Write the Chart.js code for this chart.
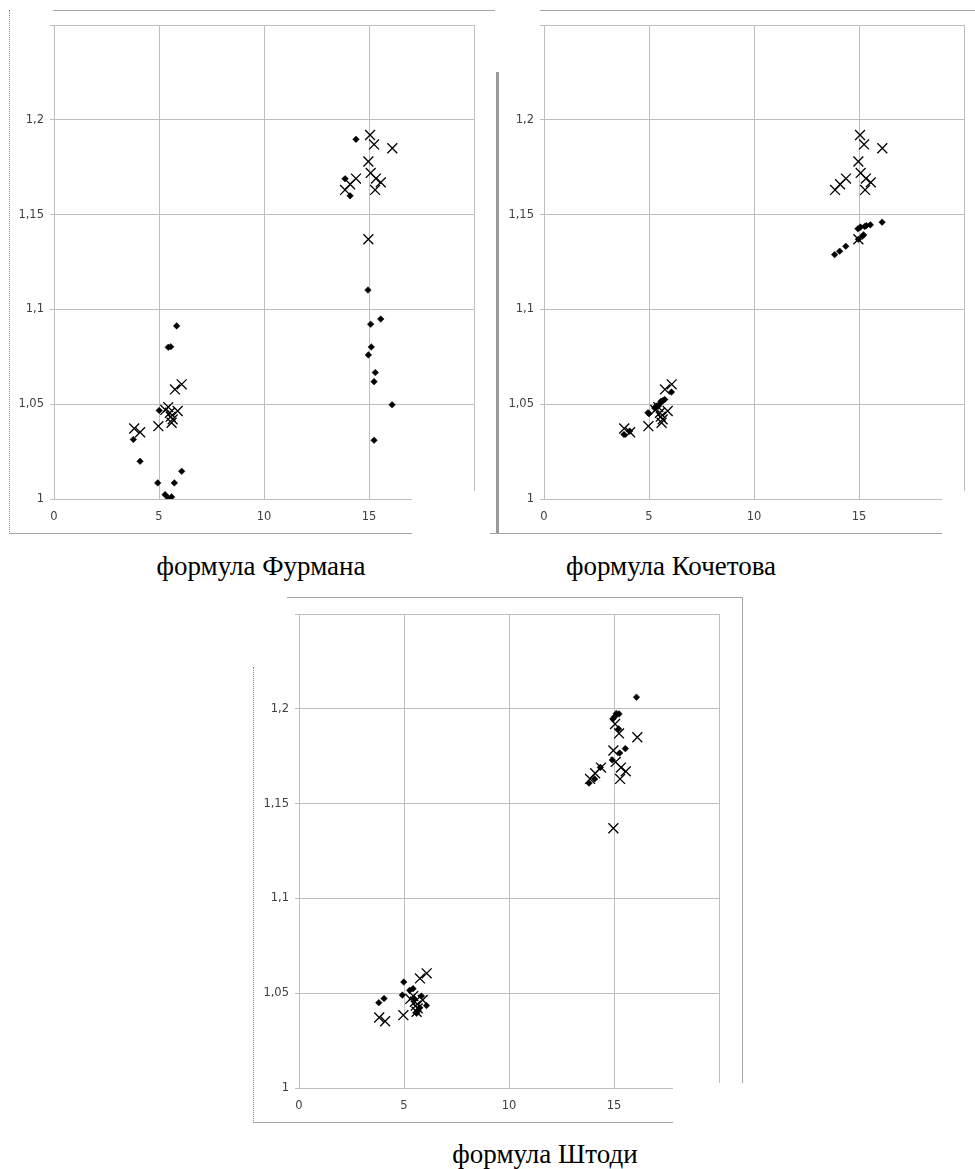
<!DOCTYPE html>
<html>
<head>
<meta charset="utf-8">
<script src="https://cdn.jsdelivr.net/npm/chart.js@4/dist/chart.umd.min.js"></script>
<style>
  body { margin: 0; background: #fff; }
  #page { position: relative; width: 975px; height: 1169px; overflow: hidden; background: #fff; }
  canvas { position: absolute; }
  .ln { position: absolute; background: #a6a6a6; }
  .dot { position: absolute; border-left: 1px dotted #8c8c8c; width: 0; }
  .patch { position: absolute; background: #fff; }
  .cap { position: absolute; width: 400px; text-align: center; font: 27px "Liberation Serif", "Times New Roman", serif; color: #000; line-height: 30px; }
</style>
</head>
<body>
<div id="page">
  <canvas id="c1" width="475" height="521" style="left:10px;top:11px"></canvas>
  <canvas id="c2" width="475" height="521" style="left:500px;top:11px"></canvas>
  <canvas id="c3" width="475" height="521" style="left:255px;top:600px"></canvas>

  <!-- white cut-outs, the pictures were pasted over each other -->
  <div class="patch" style="left:412px;top:491px;width:78px;height:50px"></div>
  <div class="patch" style="left:942px;top:491px;width:33px;height:50px"></div>
  <div class="patch" style="left:673px;top:1083px;width:75px;height:48px"></div>

  <!-- frames of the pasted pictures -->
  <div class="dot" style="left:9px;top:10px;height:524px"></div>
  <div class="ln" style="left:53px;top:10px;width:442px;height:1px"></div>
  <div class="ln" style="left:9px;top:533px;width:403px;height:1px"></div>
  <div class="ln" style="left:540px;top:10px;width:435px;height:1px"></div>
  <div class="ln" style="left:496px;top:72px;width:3px;height:462px;background:#9a9a9a"></div>
  <div class="ln" style="left:490px;top:533px;width:452px;height:1px"></div>
  <div class="ln" style="left:287px;top:597px;width:456px;height:1px"></div>
  <div class="ln" style="left:742px;top:597px;width:1px;height:486px"></div>
  <div class="dot" style="left:253px;top:667px;height:456px"></div>
  <div class="ln" style="left:253px;top:1122px;width:420px;height:1px"></div>

  <div class="cap" style="left:61px;top:551px">формула Фурмана</div>
  <div class="cap" style="left:471px;top:551px">формула Кочетова</div>
  <div class="cap" style="left:345px;top:1139px">формула Штоди</div>
</div>
<script>
// measured values (crosses), the same on all three charts
var measX = [15.05, 15.24, 16.11, 14.97, 15.08, 15.33, 15.56, 15.29, 14.38, 14.10, 13.86, 14.97,
             6.08, 5.76, 3.82, 4.10, 4.97, 5.44, 5.89, 5.56, 5.60, 5.30, 5.52, 5.65];
var measY = [1.192, 1.187, 1.185, 1.178, 1.172, 1.169, 1.167, 1.163, 1.169, 1.166, 1.163, 1.137,
             1.0605, 1.0578, 1.0372, 1.0352, 1.0384, 1.0485, 1.0464, 1.0434, 1.0402, 1.0470, 1.0455, 1.0420];

// formula values (diamonds)
var furmanX = [14.38, 13.86, 14.10, 14.95, 15.08, 15.56, 15.11, 14.97, 15.30, 15.24, 16.10, 15.24,
               5.84, 5.44, 5.56, 5.01, 3.78, 4.10, 6.08, 4.94, 5.73, 5.29, 5.44, 5.60];
var furmanY = [1.1897, 1.1689, 1.1599, 1.1102, 1.0922, 1.0949, 1.0802, 1.0760, 1.0667, 1.0619, 1.0497, 1.0310,
               1.0913, 1.0800, 1.0803, 1.0467, 1.0314, 1.0199, 1.0146, 1.0085, 1.0085, 1.0023, 1.0005, 1.0011];

var kochetovX = [13.84, 14.08, 14.37, 14.95, 15.07, 15.16, 15.22, 15.27, 15.35, 15.54, 16.10, 14.97,
                 3.81, 4.08, 4.95, 5.00, 5.35, 5.50, 5.57, 5.75, 5.68, 6.07, 5.27, 5.44];
var kochetovY = [1.1289, 1.1307, 1.1333, 1.1425, 1.1434, 1.1386, 1.1393, 1.1437, 1.1442, 1.1446, 1.1460, 1.1370,
                 1.0340, 1.0358, 1.0455, 1.0450, 1.0490, 1.0500, 1.0515, 1.0525, 1.0520, 1.0564, 1.0480, 1.0490];

var shtodiX = [16.07, 15.11, 15.24, 14.95, 15.03, 15.22, 15.54, 15.27, 14.92, 14.35, 14.08, 13.81,
               3.80, 4.05, 4.99, 4.92, 5.43, 5.27, 5.83, 6.07, 5.67, 5.60, 5.75, 5.50];
var shtodiY = [1.2061, 1.1975, 1.1973, 1.1947, 1.1958, 1.1894, 1.1790, 1.1767, 1.1730, 1.1691, 1.1630, 1.1608,
               1.0450, 1.0472, 1.0559, 1.0490, 1.0524, 1.0515, 1.0485, 1.0435, 1.0409, 1.0394, 1.0423, 1.0470];

// axes
var xMin = 0, xMax = 20, xStep = 5;
var yMin = 1, yMax = 1.25, yStep = 0.05;

var toPoints = function(xs, ys) {
  var pts = [];
  for (var i = 0; i < xs.length; i++) pts.push({x: xs[i], y: ys[i]});
  return pts;
};

var tickFont = {family: 'DejaVu Sans', size: 11.5};

var makeChart = function(id, calcX, calcY) {
  var ctx = document.getElementById(id).getContext('2d');
  return new Chart(ctx, {
    type: 'scatter',
    data: {
      datasets: [{
        data: toPoints(measX, measY),
        pointStyle: 'crossRot',
        pointRadius: 7,
        pointBorderWidth: 1.3,
        borderColor: '#000',
        backgroundColor: '#000'
      }, {
        data: toPoints(calcX, calcY),
        pointStyle: 'rectRot',
        pointRadius: 3.3,
        pointBorderWidth: 0.5,
        borderColor: '#000',
        backgroundColor: '#000'
      }]
    },
    options: {
      responsive: false,
      animation: false,
      layout: {padding: {top: 14, right: 11, left: 0, bottom: 0}},
      plugins: {legend: {display: false}, tooltip: {enabled: false}},
      scales: {
        x: {
          type: 'linear', min: xMin, max: xMax,
          grid: {color: '#bfbfbf', drawTicks: false},
          border: {color: '#bfbfbf'},
          ticks: {
            stepSize: xStep, padding: 11, color: '#404040', font: tickFont,
            maxRotation: 0,
            callback: function(v) { return v >= xMax ? '' : String(v); }
          },
          afterFit: function(s) { s.height = 33; s.paddingLeft = 0; s.paddingRight = 0; }
        },
        y: {
          type: 'linear', min: yMin, max: yMax,
          grid: {color: '#bfbfbf', tickLength: 4},
          border: {color: '#bfbfbf'},
          ticks: {
            stepSize: yStep, padding: 6, color: '#404040', font: tickFont,
            callback: function(v) {
              if (v >= yMax - 0.001) return '';
              return String(parseFloat(v.toFixed(2))).replace('.', ',');
            }
          },
          afterFit: function(s) { s.width = 44; s.paddingTop = 0; s.paddingBottom = 0; }
        }
      }
    }
  });
};

window.onload = function() {
  makeChart('c1', furmanX, furmanY);
  makeChart('c2', kochetovX, kochetovY);
  makeChart('c3', shtodiX, shtodiY);
};
</script>
</body>
</html>
